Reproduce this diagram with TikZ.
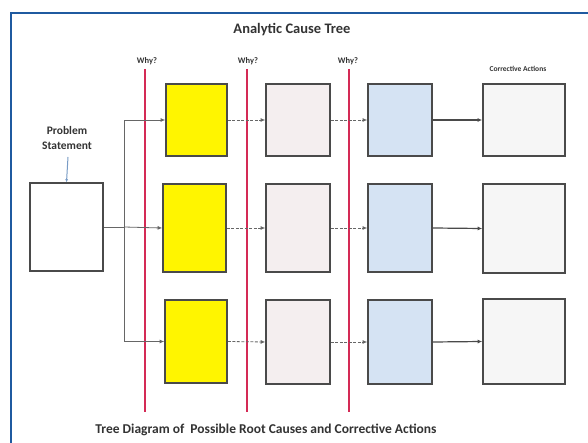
\documentclass[tikz,border=0pt]{standalone}
\usepackage{fontspec}
\setmainfont{Carlito}
\usetikzlibrary{arrows.meta}
\definecolor{frameblue}{HTML}{1F5AA0}
\definecolor{boxedge}{HTML}{4A4A4A}
\definecolor{whyred}{HTML}{D42A55}
\definecolor{ybox}{HTML}{FFF500}
\definecolor{pbox}{HTML}{F4EEEF}
\definecolor{bbox}{HTML}{D5E3F3}
\definecolor{cbox}{HTML}{F6F6F6}
\definecolor{txtgray}{HTML}{333333}
\tikzset{
  cbx/.style={draw=boxedge, line width=1.6pt, inner sep=0pt, minimum width=#1},
  redline/.style={draw=whyred, line width=1.5pt},
  conn/.style={draw=gray!80!black, line width=0.8pt, -{Latex[length=4.5pt,width=4pt]}},
  dconn/.style={conn, dash pattern=on 3pt off 1.5pt},
  sconn/.style={draw=boxedge, line width=1.2pt, -{Latex[length=4.5pt,width=4pt]}},
  whylbl/.style={font=\bfseries\fontsize{8.5}{9}\selectfont, text=txtgray, inner sep=0pt},
}
\begin{document}
\begin{tikzpicture}[x=1pt,y=-1pt]
\useasboundingbox (0,0) rectangle (588,443);
\fill[white] (0,0) rectangle (588,443);
% frame
\coordinate (ftl) at (11,13);
\coordinate (ftr) at (588,13);
\coordinate (fbl) at (11,443);
\draw[frameblue, line width=2.2pt] (fbl) -- (ftl) -- (ftr);

% titles
\node[font=\bfseries\fontsize{14.5}{16}\selectfont, text=txtgray] (title) at (292,30) {Analytic Cause Tree};
\node[font=\bfseries\fontsize{13.5}{15}\selectfont, text=txtgray] (caption) at (266,430) {Tree Diagram of\ \ Possible Root Causes and Corrective Actions};

% red lines
\coordinate (r1t) at (145,69); \coordinate (r1b) at (145,412);
\coordinate (r2t) at (247,69); \coordinate (r2b) at (247,412);
\coordinate (r3t) at (349,69); \coordinate (r3b) at (349,412);
\draw[redline] (r1t) -- (r1b);
\draw[redline] (r2t) -- (r2b);
\draw[redline] (r3t) -- (r3b);
\node[whylbl] (w1) at (147,61) {Why?};
\node[whylbl] (w2) at (248,61) {Why?};
\node[whylbl] (w3) at (348,61) {Why?};
\node[whylbl, font=\bfseries\fontsize{7.5}{8}\selectfont] (ca) at (518,69) {Corrective Actions};

% problem statement
\node[font=\bfseries\fontsize{11.5}{15}\selectfont, text=txtgray, align=center] (ps) at (67,138.5) {Problem\\Statement};
\node[cbx=73pt, minimum height=88pt, fill=white] (P) at (66.5,227) {};
\coordinate (pin) at (68,157);
\draw[draw=frameblue!60, line width=1pt, -{Latex[length=3pt,width=3pt]}] (pin) -- (P.north);

% column 1 yellow
\node[cbx=61pt, minimum height=72pt, fill=ybox] (Y1) at (196.5,120) {};
\node[cbx=63pt, minimum height=88pt, fill=ybox] (Y2) at (194.5,228) {};
\node[cbx=62pt, minimum height=83pt, fill=ybox] (Y3) at (196,341.5) {};
% column 2 pink
\node[cbx=64pt, minimum height=72pt, fill=pbox] (K1) at (298,120) {};
\node[cbx=64pt, minimum height=88pt, fill=pbox] (K2) at (298,228) {};
\node[cbx=64pt, minimum height=84pt, fill=pbox] (K3) at (298,342) {};
% column 3 blue
\node[cbx=64pt, minimum height=72pt, fill=bbox] (B1) at (400,120) {};
\node[cbx=64pt, minimum height=88pt, fill=bbox] (B2) at (400,228) {};
\node[cbx=64pt, minimum height=84pt, fill=bbox] (B3) at (400,342) {};
% column 4 corrective
\node[cbx=82pt, minimum height=72pt, fill=cbox] (C1) at (524,120) {};
\node[cbx=82pt, minimum height=89pt, fill=cbox] (C2) at (524,228.5) {};
\node[cbx=82pt, minimum height=85pt, fill=cbox] (C3) at (524,341.5) {};

% tree connectors
\coordinate (J) at (124,227);
\draw[draw=gray!80!black, line width=0.8pt] (P.east) -- (J);
\draw[conn] (J) |- (Y1.west);
\draw[conn] (J) -- (Y2.west);
\draw[conn] (J) |- (Y3.west);

\draw[dconn] (Y1.east) -- (K1.west);
\draw[dconn] (Y2.east) -- (K2.west);
\draw[dconn] (Y3.east) -- (K3.west);
\draw[dconn] (K1.east) -- (B1.west);
\draw[dconn] (K2.east) -- (B2.west);
\draw[dconn] (K3.east) -- (B3.west);
\draw[sconn] (B1.east) -- (C1.west);
\draw[sconn] (B2.east) -- (C2.west);
\draw[sconn] (B3.east) -- (C3.west);
\end{tikzpicture}
\end{document}
